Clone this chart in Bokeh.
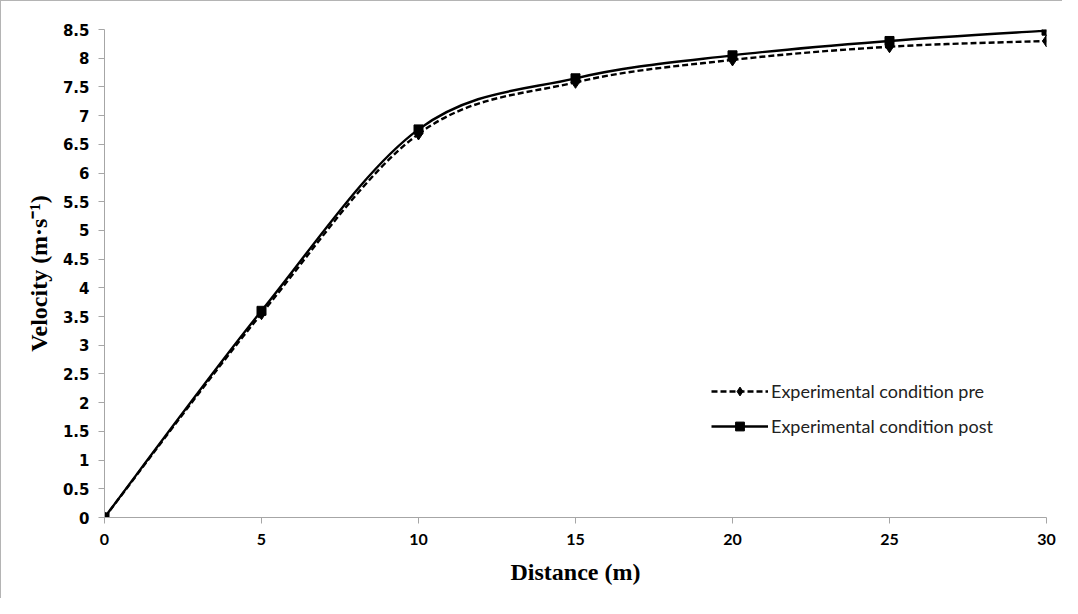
from bokeh.plotting import figure
from bokeh.models import (Legend, LegendItem, NumeralTickFormatter, FixedTicker, Range1d)
from bokeh.embed import file_html
from bokeh.resources import INLINE

# ---- data ----
distance = [0, 5, 10, 15, 20, 25, 30]
pre = [0, 3.55, 6.68, 7.58, 7.97, 8.20, 8.30]
post = [0, 3.60, 6.76, 7.65, 8.05, 8.30, 8.48]
x_ticks = [0, 5, 10, 15, 20, 25, 30]
y_ticks = [i * 0.5 for i in range(18)]
series_names = ["Experimental condition pre", "Experimental condition post"]


def bezier_segments(xs, ys):
    # Catmull-Rom style smoothing (like spreadsheet "smoothed line")
    n = len(xs)
    out = dict(x0=[], y0=[], x1=[], y1=[], cx0=[], cy0=[], cx1=[], cy1=[])
    for i in range(n - 1):
        xp, yp = (xs[i - 1], ys[i - 1]) if i > 0 else (xs[i], ys[i])
        xn, yn = (xs[i + 2], ys[i + 2]) if i + 2 < n else (xs[i + 1], ys[i + 1])
        out["x0"].append(xs[i]); out["y0"].append(ys[i])
        out["x1"].append(xs[i + 1]); out["y1"].append(ys[i + 1])
        out["cx0"].append(xs[i] + (xs[i + 1] - xp) / 6)
        out["cy0"].append(ys[i] + (ys[i + 1] - yp) / 6)
        out["cx1"].append(xs[i + 1] - (xn - xs[i]) / 6)
        out["cy1"].append(ys[i + 1] - (yn - ys[i]) / 6)
    return out


W, H = 1062, 598
p = figure(width=W, height=H, output_backend="svg", toolbar_location=None,
           x_range=Range1d(0, 30), y_range=Range1d(0, 8.5),
           min_border_left=103, min_border_right=17, min_border_top=28,
           min_border_bottom=82)
p.styles = {"border-left": "1px solid #b4b4b4", "border-top": "1px solid #b4b4b4"}
p.outline_line_color = None
p.xgrid.visible = False
p.ygrid.visible = False

axis_color = "#a6a6a6"
for ax in (p.xaxis[0], p.yaxis[0]):
    ax.axis_line_color = axis_color
    ax.major_tick_line_color = axis_color
    ax.major_tick_out = 6
    ax.major_tick_in = 0
    ax.minor_tick_line_color = None
    ax.major_label_text_font_style = "bold"
    ax.major_label_text_color = "black"
    ax.axis_label_text_font = "Liberation Serif"
    ax.axis_label_text_font_style = "bold"
    ax.axis_label_text_color = "black"

p.yaxis[0].major_label_text_font = "DejaVu Sans"
p.yaxis[0].major_label_text_font_size = "15px"
p.xaxis[0].major_label_text_font = "Lato"
p.xaxis[0].major_label_text_font_size = "16px"

p.xaxis[0].ticker = FixedTicker(ticks=x_ticks)
p.yaxis[0].ticker = FixedTicker(ticks=y_ticks)
p.yaxis[0].formatter = NumeralTickFormatter(format="0.[0]")
p.xaxis[0].major_label_standoff = 10
p.yaxis[0].major_label_standoff = 9
p.xaxis[0].axis_label = "Distance (m)"
p.yaxis[0].axis_label = "Velocity (m·s⁻¹)"
p.xaxis[0].axis_label_text_font_size = "24px"
p.yaxis[0].axis_label_text_font_size = "24px"
p.xaxis[0].axis_label_standoff = 11
p.yaxis[0].axis_label_standoff = 8

seg_pre = bezier_segments(distance, pre)
seg_post = bezier_segments(distance, post)

r_pre_line = p.bezier(source=seg_pre, x0="x0", y0="y0", x1="x1", y1="y1",
                      cx0="cx0", cy0="cy0", cx1="cx1", cy1="cy1",
                      line_color="black", line_width=2.4, line_dash="6 3")
r_pre_pts = p.scatter(distance, pre, marker="diamond", size=12, color="black")
r_post_line = p.bezier(source=seg_post, x0="x0", y0="y0", x1="x1", y1="y1",
                       cx0="cx0", cy0="cy0", cx1="cx1", cy1="cy1",
                       line_color="black", line_width=2.4)
r_post_pts = p.scatter(distance, post, marker="square", size=9, color="black")

legend = Legend(items=[
    LegendItem(label=series_names[0], renderers=[r_pre_line, r_pre_pts]),
    LegendItem(label=series_names[1], renderers=[r_post_line, r_post_pts]),
], location=(607, 80))
legend.border_line_color = None
legend.background_fill_alpha = 0
legend.padding = 0
legend.margin = 0
legend.spacing = 13
legend.glyph_width = 57
legend.glyph_height = 22
legend.label_height = 22
legend.label_standoff = 3
legend.label_text_font = "Lato"
legend.label_text_font_size = "18px"
legend.label_text_color = "#222222"
p.add_layout(legend, "center")

open("out.html", "w").write(file_html(p, INLINE))
